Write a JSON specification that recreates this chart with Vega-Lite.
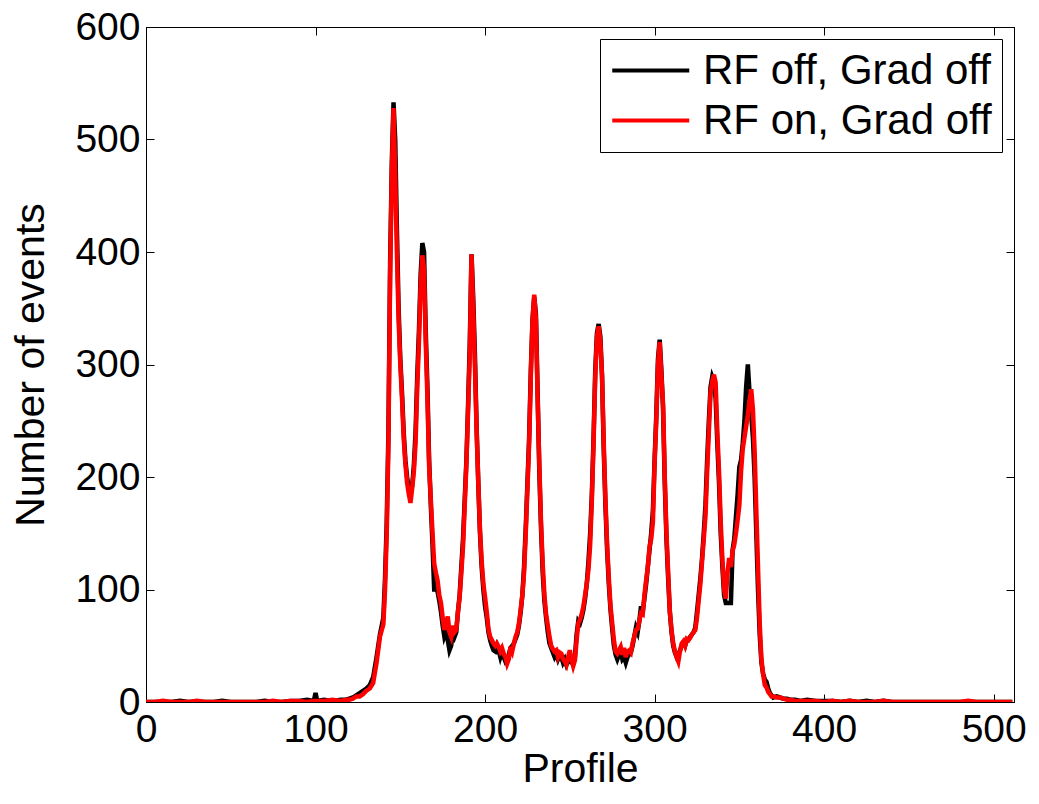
{
  "$schema": "https://vega.github.io/schema/vega-lite/v6.json",
  "width": 868,
  "height": 675,
  "autosize": "none",
  "padding": {"left": 146, "top": 27, "right": 25, "bottom": 102},
  "background": "white",
  "config": {"font": "Liberation Sans", "view": {"stroke": "black", "strokeWidth": 1}},
  "data": {"values": [
    {"p":0,"RF off, Grad off":0,"RF on, Grad off":0},
    {"p":5,"RF off, Grad off":0,"RF on, Grad off":0},
    {"p":10,"RF off, Grad off":0,"RF on, Grad off":1},
    {"p":15,"RF off, Grad off":0,"RF on, Grad off":0},
    {"p":20,"RF off, Grad off":1,"RF on, Grad off":0},
    {"p":25,"RF off, Grad off":0,"RF on, Grad off":0},
    {"p":30,"RF off, Grad off":0,"RF on, Grad off":1},
    {"p":35,"RF off, Grad off":0,"RF on, Grad off":0},
    {"p":40,"RF off, Grad off":0,"RF on, Grad off":0},
    {"p":45,"RF off, Grad off":1,"RF on, Grad off":0},
    {"p":50,"RF off, Grad off":0,"RF on, Grad off":0},
    {"p":55,"RF off, Grad off":0,"RF on, Grad off":0},
    {"p":60,"RF off, Grad off":0,"RF on, Grad off":0},
    {"p":65,"RF off, Grad off":0,"RF on, Grad off":0},
    {"p":70,"RF off, Grad off":1,"RF on, Grad off":0},
    {"p":75,"RF off, Grad off":0,"RF on, Grad off":1},
    {"p":80,"RF off, Grad off":0,"RF on, Grad off":0},
    {"p":85,"RF off, Grad off":1,"RF on, Grad off":1},
    {"p":90,"RF off, Grad off":1,"RF on, Grad off":1},
    {"p":95,"RF off, Grad off":2,"RF on, Grad off":0},
    {"p":99,"RF off, Grad off":1,"RF on, Grad off":1},
    {"p":100,"RF off, Grad off":8,"RF on, Grad off":1},
    {"p":101,"RF off, Grad off":1,"RF on, Grad off":1},
    {"p":105,"RF off, Grad off":2,"RF on, Grad off":1},
    {"p":110,"RF off, Grad off":1,"RF on, Grad off":2},
    {"p":115,"RF off, Grad off":2,"RF on, Grad off":1},
    {"p":118,"RF off, Grad off":2,"RF on, Grad off":2},
    {"p":120,"RF off, Grad off":3,"RF on, Grad off":2},
    {"p":122,"RF off, Grad off":4,"RF on, Grad off":3},
    {"p":124,"RF off, Grad off":6,"RF on, Grad off":5},
    {"p":126,"RF off, Grad off":8,"RF on, Grad off":5},
    {"p":128,"RF off, Grad off":10,"RF on, Grad off":7},
    {"p":130,"RF off, Grad off":12,"RF on, Grad off":10},
    {"p":132,"RF off, Grad off":15,"RF on, Grad off":12},
    {"p":134,"RF off, Grad off":22,"RF on, Grad off":17},
    {"p":136,"RF off, Grad off":40,"RF on, Grad off":35},
    {"p":138,"RF off, Grad off":60,"RF on, Grad off":58},
    {"p":140,"RF off, Grad off":75,"RF on, Grad off":69},
    {"p":141,"RF off, Grad off":110,"RF on, Grad off":100},
    {"p":142,"RF off, Grad off":160,"RF on, Grad off":150},
    {"p":143,"RF off, Grad off":240,"RF on, Grad off":230},
    {"p":144,"RF off, Grad off":390,"RF on, Grad off":380},
    {"p":145,"RF off, Grad off":480,"RF on, Grad off":470},
    {"p":146,"RF off, Grad off":533,"RF on, Grad off":528},
    {"p":147,"RF off, Grad off":500,"RF on, Grad off":470},
    {"p":148,"RF off, Grad off":420,"RF on, Grad off":400},
    {"p":149,"RF off, Grad off":350,"RF on, Grad off":340},
    {"p":150,"RF off, Grad off":305,"RF on, Grad off":301},
    {"p":151,"RF off, Grad off":275,"RF on, Grad off":270},
    {"p":152,"RF off, Grad off":240,"RF on, Grad off":235},
    {"p":153,"RF off, Grad off":215,"RF on, Grad off":212},
    {"p":154,"RF off, Grad off":200,"RF on, Grad off":195},
    {"p":155,"RF off, Grad off":190,"RF on, Grad off":185},
    {"p":156,"RF off, Grad off":188,"RF on, Grad off":177},
    {"p":157,"RF off, Grad off":192,"RF on, Grad off":190},
    {"p":158,"RF off, Grad off":210,"RF on, Grad off":205},
    {"p":159,"RF off, Grad off":240,"RF on, Grad off":230},
    {"p":160,"RF off, Grad off":290,"RF on, Grad off":280},
    {"p":161,"RF off, Grad off":330,"RF on, Grad off":320},
    {"p":162,"RF off, Grad off":380,"RF on, Grad off":370},
    {"p":163,"RF off, Grad off":408,"RF on, Grad off":397},
    {"p":164,"RF off, Grad off":400,"RF on, Grad off":385},
    {"p":165,"RF off, Grad off":330,"RF on, Grad off":320},
    {"p":166,"RF off, Grad off":280,"RF on, Grad off":270},
    {"p":167,"RF off, Grad off":215,"RF on, Grad off":210},
    {"p":168,"RF off, Grad off":175,"RF on, Grad off":180},
    {"p":169,"RF off, Grad off":140,"RF on, Grad off":150},
    {"p":170,"RF off, Grad off":100,"RF on, Grad off":123},
    {"p":171,"RF off, Grad off":100,"RF on, Grad off":115},
    {"p":172,"RF off, Grad off":98,"RF on, Grad off":108},
    {"p":173,"RF off, Grad off":90,"RF on, Grad off":95},
    {"p":174,"RF off, Grad off":80,"RF on, Grad off":88},
    {"p":175,"RF off, Grad off":68,"RF on, Grad off":75},
    {"p":176,"RF off, Grad off":58,"RF on, Grad off":64},
    {"p":177,"RF off, Grad off":62,"RF on, Grad off":70},
    {"p":178,"RF off, Grad off":55,"RF on, Grad off":76},
    {"p":179,"RF off, Grad off":46,"RF on, Grad off":62},
    {"p":180,"RF off, Grad off":50,"RF on, Grad off":58},
    {"p":181,"RF off, Grad off":62,"RF on, Grad off":68},
    {"p":182,"RF off, Grad off":58,"RF on, Grad off":62},
    {"p":183,"RF off, Grad off":62,"RF on, Grad off":64},
    {"p":184,"RF off, Grad off":80,"RF on, Grad off":80},
    {"p":185,"RF off, Grad off":95,"RF on, Grad off":93},
    {"p":186,"RF off, Grad off":120,"RF on, Grad off":115},
    {"p":187,"RF off, Grad off":145,"RF on, Grad off":138},
    {"p":188,"RF off, Grad off":180,"RF on, Grad off":175},
    {"p":189,"RF off, Grad off":215,"RF on, Grad off":212},
    {"p":190,"RF off, Grad off":265,"RF on, Grad off":260},
    {"p":191,"RF off, Grad off":320,"RF on, Grad off":310},
    {"p":192,"RF off, Grad off":398,"RF on, Grad off":398},
    {"p":193,"RF off, Grad off":360,"RF on, Grad off":350},
    {"p":194,"RF off, Grad off":310,"RF on, Grad off":300},
    {"p":195,"RF off, Grad off":245,"RF on, Grad off":242},
    {"p":196,"RF off, Grad off":195,"RF on, Grad off":195},
    {"p":197,"RF off, Grad off":150,"RF on, Grad off":153},
    {"p":198,"RF off, Grad off":120,"RF on, Grad off":125},
    {"p":199,"RF off, Grad off":100,"RF on, Grad off":105},
    {"p":200,"RF off, Grad off":85,"RF on, Grad off":93},
    {"p":201,"RF off, Grad off":75,"RF on, Grad off":80},
    {"p":202,"RF off, Grad off":62,"RF on, Grad off":65},
    {"p":203,"RF off, Grad off":55,"RF on, Grad off":58},
    {"p":204,"RF off, Grad off":50,"RF on, Grad off":55},
    {"p":205,"RF off, Grad off":46,"RF on, Grad off":52},
    {"p":206,"RF off, Grad off":45,"RF on, Grad off":50},
    {"p":207,"RF off, Grad off":50,"RF on, Grad off":52},
    {"p":208,"RF off, Grad off":46,"RF on, Grad off":49},
    {"p":209,"RF off, Grad off":40,"RF on, Grad off":45},
    {"p":210,"RF off, Grad off":45,"RF on, Grad off":48},
    {"p":211,"RF off, Grad off":40,"RF on, Grad off":43},
    {"p":212,"RF off, Grad off":36,"RF on, Grad off":40},
    {"p":213,"RF off, Grad off":38,"RF on, Grad off":34},
    {"p":214,"RF off, Grad off":42,"RF on, Grad off":38},
    {"p":215,"RF off, Grad off":48,"RF on, Grad off":49},
    {"p":216,"RF off, Grad off":50,"RF on, Grad off":45},
    {"p":217,"RF off, Grad off":52,"RF on, Grad off":52},
    {"p":218,"RF off, Grad off":56,"RF on, Grad off":58},
    {"p":219,"RF off, Grad off":60,"RF on, Grad off":62},
    {"p":220,"RF off, Grad off":68,"RF on, Grad off":70},
    {"p":221,"RF off, Grad off":80,"RF on, Grad off":82},
    {"p":222,"RF off, Grad off":95,"RF on, Grad off":95},
    {"p":223,"RF off, Grad off":120,"RF on, Grad off":115},
    {"p":224,"RF off, Grad off":155,"RF on, Grad off":150},
    {"p":225,"RF off, Grad off":195,"RF on, Grad off":190},
    {"p":226,"RF off, Grad off":235,"RF on, Grad off":230},
    {"p":227,"RF off, Grad off":295,"RF on, Grad off":290},
    {"p":228,"RF off, Grad off":340,"RF on, Grad off":340},
    {"p":229,"RF off, Grad off":360,"RF on, Grad off":362},
    {"p":230,"RF off, Grad off":345,"RF on, Grad off":340},
    {"p":231,"RF off, Grad off":275,"RF on, Grad off":270},
    {"p":232,"RF off, Grad off":205,"RF on, Grad off":212},
    {"p":233,"RF off, Grad off":155,"RF on, Grad off":160},
    {"p":234,"RF off, Grad off":115,"RF on, Grad off":123},
    {"p":235,"RF off, Grad off":90,"RF on, Grad off":95},
    {"p":236,"RF off, Grad off":75,"RF on, Grad off":78},
    {"p":237,"RF off, Grad off":62,"RF on, Grad off":68},
    {"p":238,"RF off, Grad off":52,"RF on, Grad off":58},
    {"p":239,"RF off, Grad off":48,"RF on, Grad off":50},
    {"p":240,"RF off, Grad off":44,"RF on, Grad off":47},
    {"p":241,"RF off, Grad off":40,"RF on, Grad off":45},
    {"p":242,"RF off, Grad off":43,"RF on, Grad off":46},
    {"p":243,"RF off, Grad off":38,"RF on, Grad off":40},
    {"p":244,"RF off, Grad off":42,"RF on, Grad off":44},
    {"p":245,"RF off, Grad off":40,"RF on, Grad off":43},
    {"p":246,"RF off, Grad off":35,"RF on, Grad off":38},
    {"p":247,"RF off, Grad off":38,"RF on, Grad off":36},
    {"p":248,"RF off, Grad off":33,"RF on, Grad off":33},
    {"p":249,"RF off, Grad off":36,"RF on, Grad off":40},
    {"p":250,"RF off, Grad off":42,"RF on, Grad off":46},
    {"p":251,"RF off, Grad off":35,"RF on, Grad off":38},
    {"p":252,"RF off, Grad off":34,"RF on, Grad off":32},
    {"p":253,"RF off, Grad off":40,"RF on, Grad off":37},
    {"p":254,"RF off, Grad off":60,"RF on, Grad off":55},
    {"p":255,"RF off, Grad off":72,"RF on, Grad off":70},
    {"p":256,"RF off, Grad off":70,"RF on, Grad off":73},
    {"p":257,"RF off, Grad off":75,"RF on, Grad off":78},
    {"p":258,"RF off, Grad off":82,"RF on, Grad off":85},
    {"p":259,"RF off, Grad off":92,"RF on, Grad off":95},
    {"p":260,"RF off, Grad off":105,"RF on, Grad off":105},
    {"p":261,"RF off, Grad off":125,"RF on, Grad off":118},
    {"p":262,"RF off, Grad off":150,"RF on, Grad off":140},
    {"p":263,"RF off, Grad off":185,"RF on, Grad off":180},
    {"p":264,"RF off, Grad off":235,"RF on, Grad off":230},
    {"p":265,"RF off, Grad off":295,"RF on, Grad off":290},
    {"p":266,"RF off, Grad off":328,"RF on, Grad off":325},
    {"p":267,"RF off, Grad off":336,"RF on, Grad off":334},
    {"p":268,"RF off, Grad off":325,"RF on, Grad off":320},
    {"p":269,"RF off, Grad off":290,"RF on, Grad off":290},
    {"p":270,"RF off, Grad off":225,"RF on, Grad off":230},
    {"p":271,"RF off, Grad off":175,"RF on, Grad off":180},
    {"p":272,"RF off, Grad off":135,"RF on, Grad off":140},
    {"p":273,"RF off, Grad off":105,"RF on, Grad off":110},
    {"p":274,"RF off, Grad off":82,"RF on, Grad off":85},
    {"p":275,"RF off, Grad off":65,"RF on, Grad off":70},
    {"p":276,"RF off, Grad off":50,"RF on, Grad off":55},
    {"p":277,"RF off, Grad off":42,"RF on, Grad off":45},
    {"p":278,"RF off, Grad off":38,"RF on, Grad off":43},
    {"p":279,"RF off, Grad off":42,"RF on, Grad off":46},
    {"p":280,"RF off, Grad off":45,"RF on, Grad off":49},
    {"p":281,"RF off, Grad off":38,"RF on, Grad off":42},
    {"p":282,"RF off, Grad off":40,"RF on, Grad off":48},
    {"p":283,"RF off, Grad off":35,"RF on, Grad off":40},
    {"p":284,"RF off, Grad off":40,"RF on, Grad off":45},
    {"p":285,"RF off, Grad off":42,"RF on, Grad off":46},
    {"p":286,"RF off, Grad off":44,"RF on, Grad off":44},
    {"p":287,"RF off, Grad off":50,"RF on, Grad off":52},
    {"p":288,"RF off, Grad off":58,"RF on, Grad off":58},
    {"p":289,"RF off, Grad off":66,"RF on, Grad off":64},
    {"p":290,"RF off, Grad off":62,"RF on, Grad off":65},
    {"p":291,"RF off, Grad off":72,"RF on, Grad off":72},
    {"p":292,"RF off, Grad off":85,"RF on, Grad off":79},
    {"p":293,"RF off, Grad off":80,"RF on, Grad off":78},
    {"p":294,"RF off, Grad off":92,"RF on, Grad off":95},
    {"p":295,"RF off, Grad off":105,"RF on, Grad off":108},
    {"p":296,"RF off, Grad off":120,"RF on, Grad off":120},
    {"p":297,"RF off, Grad off":135,"RF on, Grad off":138},
    {"p":298,"RF off, Grad off":150,"RF on, Grad off":145},
    {"p":299,"RF off, Grad off":170,"RF on, Grad off":160},
    {"p":300,"RF off, Grad off":215,"RF on, Grad off":212},
    {"p":301,"RF off, Grad off":255,"RF on, Grad off":250},
    {"p":302,"RF off, Grad off":305,"RF on, Grad off":300},
    {"p":303,"RF off, Grad off":322,"RF on, Grad off":320},
    {"p":304,"RF off, Grad off":295,"RF on, Grad off":290},
    {"p":305,"RF off, Grad off":260,"RF on, Grad off":265},
    {"p":306,"RF off, Grad off":195,"RF on, Grad off":200},
    {"p":307,"RF off, Grad off":145,"RF on, Grad off":150},
    {"p":308,"RF off, Grad off":110,"RF on, Grad off":115},
    {"p":309,"RF off, Grad off":80,"RF on, Grad off":80},
    {"p":310,"RF off, Grad off":62,"RF on, Grad off":64},
    {"p":311,"RF off, Grad off":50,"RF on, Grad off":52},
    {"p":312,"RF off, Grad off":44,"RF on, Grad off":45},
    {"p":313,"RF off, Grad off":40,"RF on, Grad off":40},
    {"p":314,"RF off, Grad off":42,"RF on, Grad off":36},
    {"p":315,"RF off, Grad off":46,"RF on, Grad off":45},
    {"p":316,"RF off, Grad off":50,"RF on, Grad off":52},
    {"p":317,"RF off, Grad off":52,"RF on, Grad off":54},
    {"p":318,"RF off, Grad off":50,"RF on, Grad off":50},
    {"p":319,"RF off, Grad off":55,"RF on, Grad off":56},
    {"p":320,"RF off, Grad off":56,"RF on, Grad off":55},
    {"p":321,"RF off, Grad off":58,"RF on, Grad off":57},
    {"p":322,"RF off, Grad off":60,"RF on, Grad off":60},
    {"p":323,"RF off, Grad off":62,"RF on, Grad off":62},
    {"p":324,"RF off, Grad off":66,"RF on, Grad off":64},
    {"p":325,"RF off, Grad off":80,"RF on, Grad off":75},
    {"p":326,"RF off, Grad off":95,"RF on, Grad off":90},
    {"p":327,"RF off, Grad off":110,"RF on, Grad off":105},
    {"p":328,"RF off, Grad off":128,"RF on, Grad off":125},
    {"p":329,"RF off, Grad off":150,"RF on, Grad off":145},
    {"p":330,"RF off, Grad off":175,"RF on, Grad off":165},
    {"p":331,"RF off, Grad off":215,"RF on, Grad off":205},
    {"p":332,"RF off, Grad off":250,"RF on, Grad off":240},
    {"p":333,"RF off, Grad off":280,"RF on, Grad off":275},
    {"p":334,"RF off, Grad off":289,"RF on, Grad off":285},
    {"p":335,"RF off, Grad off":285,"RF on, Grad off":291},
    {"p":336,"RF off, Grad off":270,"RF on, Grad off":284},
    {"p":337,"RF off, Grad off":230,"RF on, Grad off":240},
    {"p":338,"RF off, Grad off":195,"RF on, Grad off":205},
    {"p":339,"RF off, Grad off":150,"RF on, Grad off":160},
    {"p":340,"RF off, Grad off":120,"RF on, Grad off":126},
    {"p":341,"RF off, Grad off":95,"RF on, Grad off":100},
    {"p":342,"RF off, Grad off":88,"RF on, Grad off":92},
    {"p":343,"RF off, Grad off":88,"RF on, Grad off":115},
    {"p":344,"RF off, Grad off":88,"RF on, Grad off":128},
    {"p":345,"RF off, Grad off":88,"RF on, Grad off":120},
    {"p":346,"RF off, Grad off":135,"RF on, Grad off":134},
    {"p":347,"RF off, Grad off":145,"RF on, Grad off":140},
    {"p":348,"RF off, Grad off":165,"RF on, Grad off":150},
    {"p":349,"RF off, Grad off":185,"RF on, Grad off":162},
    {"p":350,"RF off, Grad off":209,"RF on, Grad off":175},
    {"p":351,"RF off, Grad off":215,"RF on, Grad off":205},
    {"p":352,"RF off, Grad off":230,"RF on, Grad off":225},
    {"p":353,"RF off, Grad off":250,"RF on, Grad off":235},
    {"p":354,"RF off, Grad off":280,"RF on, Grad off":245},
    {"p":355,"RF off, Grad off":300,"RF on, Grad off":255},
    {"p":356,"RF off, Grad off":275,"RF on, Grad off":268},
    {"p":357,"RF off, Grad off":255,"RF on, Grad off":278},
    {"p":358,"RF off, Grad off":235,"RF on, Grad off":260},
    {"p":359,"RF off, Grad off":200,"RF on, Grad off":223},
    {"p":360,"RF off, Grad off":150,"RF on, Grad off":170},
    {"p":361,"RF off, Grad off":100,"RF on, Grad off":120},
    {"p":362,"RF off, Grad off":60,"RF on, Grad off":70},
    {"p":363,"RF off, Grad off":35,"RF on, Grad off":38},
    {"p":364,"RF off, Grad off":25,"RF on, Grad off":25},
    {"p":365,"RF off, Grad off":20,"RF on, Grad off":15},
    {"p":366,"RF off, Grad off":18,"RF on, Grad off":13},
    {"p":367,"RF off, Grad off":12,"RF on, Grad off":9},
    {"p":368,"RF off, Grad off":8,"RF on, Grad off":7},
    {"p":369,"RF off, Grad off":6,"RF on, Grad off":5},
    {"p":370,"RF off, Grad off":4,"RF on, Grad off":5},
    {"p":372,"RF off, Grad off":5,"RF on, Grad off":4},
    {"p":374,"RF off, Grad off":4,"RF on, Grad off":4},
    {"p":376,"RF off, Grad off":3,"RF on, Grad off":3},
    {"p":378,"RF off, Grad off":3,"RF on, Grad off":2},
    {"p":380,"RF off, Grad off":2,"RF on, Grad off":2},
    {"p":383,"RF off, Grad off":2,"RF on, Grad off":1},
    {"p":386,"RF off, Grad off":1,"RF on, Grad off":1},
    {"p":390,"RF off, Grad off":2,"RF on, Grad off":1},
    {"p":395,"RF off, Grad off":1,"RF on, Grad off":1},
    {"p":400,"RF off, Grad off":1,"RF on, Grad off":0},
    {"p":405,"RF off, Grad off":1,"RF on, Grad off":1},
    {"p":410,"RF off, Grad off":0,"RF on, Grad off":0},
    {"p":415,"RF off, Grad off":1,"RF on, Grad off":1},
    {"p":420,"RF off, Grad off":0,"RF on, Grad off":0},
    {"p":425,"RF off, Grad off":1,"RF on, Grad off":0},
    {"p":430,"RF off, Grad off":0,"RF on, Grad off":0},
    {"p":435,"RF off, Grad off":1,"RF on, Grad off":1},
    {"p":440,"RF off, Grad off":0,"RF on, Grad off":0},
    {"p":450,"RF off, Grad off":0,"RF on, Grad off":0},
    {"p":460,"RF off, Grad off":0,"RF on, Grad off":0},
    {"p":470,"RF off, Grad off":0,"RF on, Grad off":0},
    {"p":480,"RF off, Grad off":0,"RF on, Grad off":0},
    {"p":485,"RF off, Grad off":0,"RF on, Grad off":1},
    {"p":490,"RF off, Grad off":0,"RF on, Grad off":0},
    {"p":500,"RF off, Grad off":0,"RF on, Grad off":0},
    {"p":511,"RF off, Grad off":0,"RF on, Grad off":0}
  ]},
  "transform": [{"fold": ["RF off, Grad off", "RF on, Grad off"], "as": ["series", "events"]}],
  "layer": [
    {
      "mark": {"type": "line", "strokeWidth": 4.5, "strokeJoin": "miter", "clip": true},
      "encoding": {
        "x": {"field": "p", "type": "quantitative",
          "scale": {"domain": [0, 512], "nice": false, "zero": false},
          "axis": {"orient": "bottom", "values": [0, 100, 200, 300, 400, 500], "grid": false,
            "tickSize": -8, "tickColor": "black", "domainColor": "black", "labelFontSize": 39, "labelColor": "black",
            "labelPadding": 16, "labelFlush": false, "labelOverlap": false, "title": "Profile",
            "titleFontSize": 41, "titleFontWeight": "normal", "titleColor": "black", "titlePadding": 0}},
        "y": {"field": "events", "type": "quantitative",
          "scale": {"domain": [0, 600], "nice": false},
          "axis": {"orient": "left", "values": [0, 100, 200, 300, 400, 500, 600], "grid": false,
            "tickSize": -8, "tickColor": "black", "domainColor": "black", "labelFontSize": 39, "labelColor": "black",
            "labelPadding": 14, "labelFlush": false, "labelOverlap": false, "title": "Number of events",
            "titleFontSize": 41, "titleFontWeight": "normal", "titleColor": "black", "titlePadding": 22}},
        "color": {"field": "series", "type": "nominal",
          "scale": {"domain": ["RF off, Grad off", "RF on, Grad off"], "range": ["#000000", "#ff0000"]},
          "legend": {"title": null, "orient": "top-right", "offset": 12, "strokeColor": "black", "fillColor": "white",
            "padding": 10, "cornerRadius": 0, "labelFontSize": 42, "labelColor": "black", "labelLimit": 0,
            "symbolType": "M-1,0H3", "symbolSize": 1482, "symbolStrokeWidth": 4, "symbolFillColor": "transparent",
            "rowPadding": 7, "labelOffset": 50}}
      }
    },
    {
      "mark": {"type": "line", "opacity": 0},
      "encoding": {
        "x": {"field": "p", "type": "quantitative",
          "scale": {"domain": [0, 512], "nice": false, "zero": false},
          "axis": {"orient": "top", "values": [0, 100, 200, 300, 400, 500], "grid": false, "labels": false,
            "tickSize": -8, "tickColor": "black", "domainColor": "black", "title": null}},
        "y": {"field": "events", "type": "quantitative",
          "scale": {"domain": [0, 600], "nice": false},
          "axis": {"orient": "right", "values": [0, 100, 200, 300, 400, 500, 600], "grid": false, "labels": false,
            "tickSize": -8, "tickColor": "black", "domainColor": "black", "title": null}}
      }
    }
  ],
  "resolve": {"axis": {"x": "independent", "y": "independent"}}
}
